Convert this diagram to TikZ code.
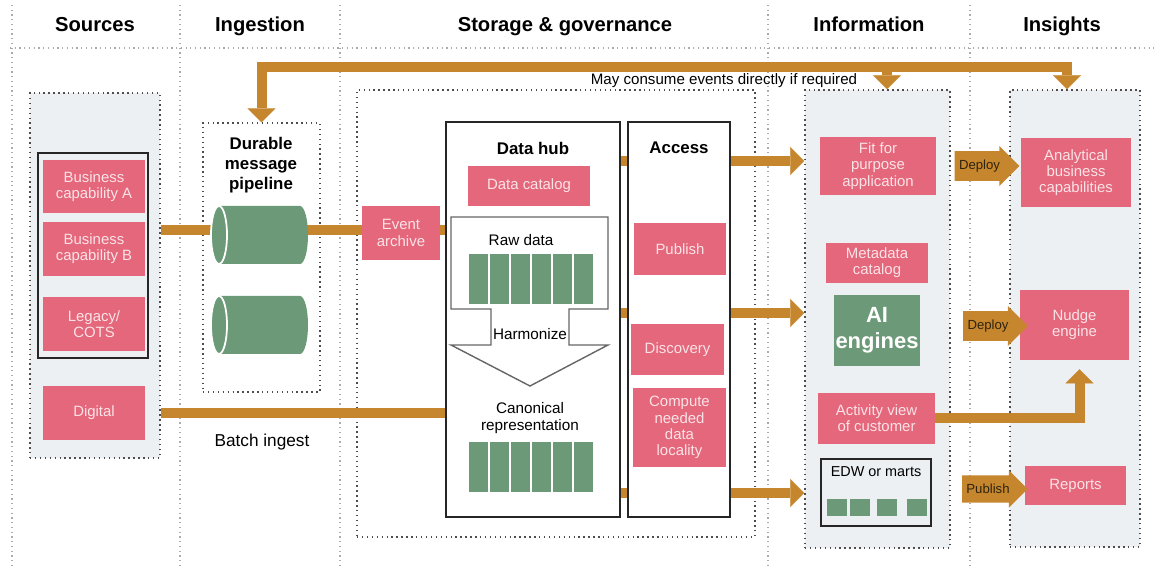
\documentclass[tikz,border=0pt]{standalone}
\usepackage{fontspec}
\setmainfont{Liberation Sans}
\usepackage{tikz}
\usetikzlibrary{arrows.meta,calc,shapes.arrows}
\definecolor{roseF}{HTML}{E4677B}
\definecolor{roseT}{HTML}{FBE3E7}
\definecolor{sageG}{HTML}{6C9A78}
\definecolor{ochreO}{HTML}{C6862D}
\definecolor{paneG}{HTML}{EDF0F3}
\definecolor{dotG}{HTML}{4D4D4D}
\definecolor{sepG}{HTML}{ABABAB}
\definecolor{tagT}{HTML}{2E2410}
\pgfdeclarelayer{panels}
\pgfdeclarelayer{flows}
\pgfsetlayers{panels,flows,main}

\begin{document}
\begin{tikzpicture}[x=0.02cm, y=-0.02cm,
    every node/.style={inner sep=0pt, font=\fontsize{8.5}{9.2}\selectfont},
    capbox/.style={fill=roseF, text=roseT, align=center},
    panel/.style={draw=dotG, fill=paneG, dotted, line width=0.8pt},
    colsep/.style={draw=sepG, dotted, line width=0.7pt},
    hubframe/.style={draw=black!85, fill=white, line width=0.9pt},
    ttl/.style={font=\bfseries\fontsize{9.6}{11.3}\selectfont, align=center},
    colhead/.style={font=\bfseries\fontsize{11.5}{14}\selectfont, anchor=base},
    hubtxt/.style={font=\fontsize{8.7}{9.6}\selectfont, align=center},
    flow/.style={draw=ochreO, line width=0.2cm},
    flowhead/.tip={Triangle[width=0.56cm, length=0.28cm, line width=0.1pt]},
    cell/.style={fill=sageG, draw=white, line width=0.8pt},
    tagarrow/.style={single arrow, fill=ochreO, text=tagT, single arrow head extend=0.1cm, minimum height=1.18cm, inner xsep=0.08cm, inner ysep=0.17cm, font=\fontsize{7.5}{9}\selectfont}
]
\useasboundingbox (0,0) rectangle (1156,570);

% Columns
\begin{pgfonlayer}{panels}
\foreach \x in {12,180,340,768,970}
    \draw[colsep] (\x,5) -- (\x,570);
\draw[colsep] (10,48) -- (1156,48);
\node[panel, minimum width=2.6cm, minimum height=7.3cm] (src) at (95,275.5) {};
\node[panel, fill=white, minimum width=2.34cm, minimum height=5.38cm] (pipebox) at (261.5,257.5) {};
\node[panel, fill=none, minimum width=7.96cm, minimum height=8.94cm] (store) at (556,313.5) {};
\node[panel, minimum width=2.9cm, minimum height=9.16cm] (info) at (877.5,319) {};
\node[panel, minimum width=2.6cm, minimum height=9.14cm] (insight) at (1075,318.5) {};
\end{pgfonlayer}

\node[colhead] (hsrc) at (95,32) {Sources};
\node[colhead] (hing) at (260,32) {Ingestion};
\node[colhead] (hsto) at (565,32) {Storage \& governance};
\node[colhead] (hinf) at (869,32) {Information};
\node[colhead] (hins) at (1062,32) {Insights};

% Sources
\node[draw=black!85, line width=0.9pt, minimum width=2.2cm, minimum height=4.1cm] (srcframe) at (93,255.5) {};
\node[capbox, minimum width=2.04cm, minimum height=1.06cm] (bizA) at (94,186.5) {Business\\capability A};
\node[capbox, minimum width=2.04cm, minimum height=1.08cm] (bizB) at (94,249) {Business\\capability B};
\node[capbox, minimum width=2.04cm, minimum height=1.08cm] (legacy) at (94,324) {Legacy/\\COTS};
\node[capbox, minimum width=2.04cm, minimum height=1.08cm] (digital) at (94,413) {Digital};

% Ingestion
\node[ttl] (pipettl) at (261,165) {Durable\\message\\pipeline};
\foreach \y in {235,325} {
    \fill[sageG] (219,\y-29) -- (300,\y-29) arc (-90:90:8 and 29) -- (219,\y+29) -- cycle;
    \draw[white, line width=1pt, fill=sageG] (219,\y) ellipse (8 and 29);
}
\node[font=\fontsize{9.8}{12}\selectfont] (batch) at (262,442) {Batch ingest};

% Storage
\node[capbox, minimum width=1.56cm, minimum height=1.08cm] (evt) at (401,233) {Event\\archive};
\node[font=\fontsize{8.6}{10}\selectfont] (maycons) at (724,81) {May consume events directly if required};
\node[hubframe, minimum width=3.48cm, minimum height=7.9cm] (hub) at (533,319.5) {};
\node[hubframe, minimum width=2.04cm, minimum height=7.9cm] (access) at (679,319.5) {};
\node[ttl] (hubttl) at (533,148) {Data hub};
\node[ttl] (accttl) at (679,148) {Access};
\node[capbox, minimum width=2.44cm, minimum height=0.8cm] (catalog) at (529,186) {Data catalog};
\draw[draw=black!60, line width=0.8pt, fill=white]
    (451,217) -- (608,217) -- (608,309) -- (569,309) -- (569,345) -- (608,345)
    -- (530,386) -- (451,345) -- (491,345) -- (491,309) -- (451,309) -- cycle;
\node[hubtxt] (rawttl) at (521,240) {Raw data};
\foreach \i in {0,...,5}
    \draw[cell] (468+\i*21,253) rectangle ++(21,52);
\node[hubtxt] (harm) at (530,334) {Harmonize};
\node[hubtxt] (canon) at (530,418) {Canonical\\representation};
\foreach \i in {0,...,5}
    \draw[cell] (468+\i*21,441) rectangle ++(21,52);
\node[capbox, minimum width=1.84cm, minimum height=1.04cm] (publish) at (680,249) {Publish};
\node[capbox, minimum width=1.86cm, minimum height=1.02cm] (discovery) at (677.5,349.5) {Discovery};
\node[capbox, minimum width=1.86cm, minimum height=1.58cm] (compute) at (679.5,427.5) {Compute\\needed\\data\\locality};

% Information
\node[capbox, minimum width=2.32cm, minimum height=1.16cm] (fitapp) at (878,166) {Fit for\\purpose\\application};
\node[capbox, minimum width=2.04cm, minimum height=0.8cm] (metacat) at (877,263) {Metadata\\catalog};
\node[fill=sageG, text=white, align=center, font=\bfseries\fontsize{12.5}{14.5}\selectfont, minimum width=1.72cm, minimum height=1.42cm] (aieng) at (877,330.5) {AI\\engines};
\node[capbox, minimum width=2.34cm, minimum height=1.02cm] (activity) at (876.5,418.5) {Activity view\\of customer};
\node[draw=black!85, fill=paneG, line width=0.9pt, minimum width=2.2cm, minimum height=1.34cm] (edw) at (876,492.5) {};
\node[font=\fontsize{8.2}{10}\selectfont] (edwttl) at (876,472) {EDW or marts};
\foreach \x in {827,850,877,907}
    \fill[sageG] (\x,499) rectangle ++(20,17);

% Insights
\node[capbox, minimum width=2.2cm, minimum height=1.38cm] (analytic) at (1076,172.5) {Analytical\\business\\capabilities};
\node[capbox, minimum width=2.18cm, minimum height=1.4cm] (nudge) at (1074.5,325) {Nudge\\engine};
\node[capbox, minimum width=2.02cm, minimum height=0.78cm] (reports) at (1075.5,485.5) {Reports};
\node[tagarrow] (dep1) at (979.5,166) {Deploy};
\node[tagarrow] (dep2) at (988,326) {Deploy};
\node[tagarrow] (pub) at (988,489) {Publish};

% Flows
\coordinate (busR) at (1067,67);
\coordinate (busM) at (887,67);
\begin{pgfonlayer}{flows}
\draw[flow, flowhead-flowhead] (pipebox.north) |- (busR) -- (busR |- insight.north);
\draw[flow, -flowhead] (busM) -- (busM |- info.north);
\draw[flow] (src.east |- 0,230) -- (evt.west |- 0,230);
\draw[flow] (evt.east |- 0,230) -- (hub.west |- 0,230);
\draw[flow] (src.east |- digital) -- (digital -| hub.west);
\draw[flow, -flowhead] (hub.east |- 0,161) -- (info.west |- 0,161);
\draw[flow, -flowhead] (hub.east |- 0,313) -- (info.west |- 0,313);
\draw[flow, -flowhead] (hub.east |- 0,493) -- (info.west |- 0,493);
\draw[flow, -flowhead] (activity.east) -| ([xshift=0.1cm, yshift=-0.18cm]nudge.south);
\end{pgfonlayer}
\end{tikzpicture}
\end{document}
